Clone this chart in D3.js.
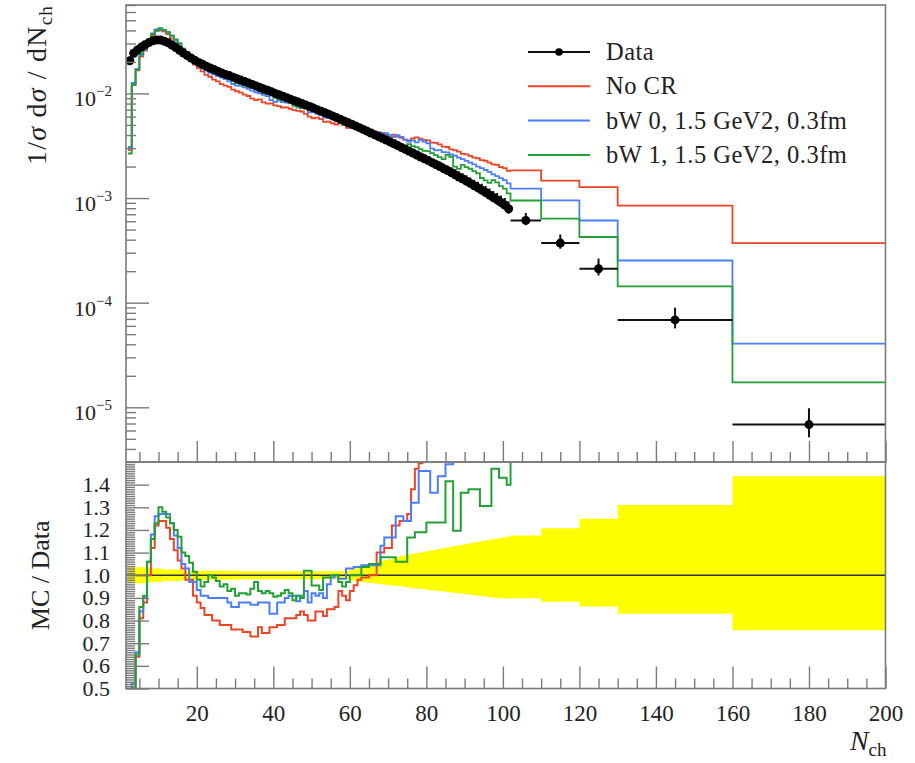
<!DOCTYPE html>
<html lang="en">
<head>
<meta charset="UTF-8">
<title>Nch distribution</title>
<script src="https://d3js.org/d3.v7.min.js"></script>
<style>
  body { margin: 0; padding: 0; background: #fff; }
  svg { display: block; font-family: "Liberation Serif", "DejaVu Serif", serif; }
</style>
</head>
<body>
<svg id="chart" width="915" height="763"></svg>
<script>
// bin edges in Nch: unit bins 2..102, then the wide tail bins
const binEdges = [2,3,4,5,6,7,8,9,10,11,12,13,14,15,16,17,18,19,20,21,22,23,24,25,26,27,28,29,30,31,
  32,33,34,35,36,37,38,39,40,41,42,43,44,45,46,47,48,49,50,51,52,53,54,55,56,57,58,59,60,61,
  62,63,64,65,66,67,68,69,70,71,72,73,74,75,76,77,78,79,80,81,82,83,84,85,86,87,88,89,90,91,
  92,93,94,95,96,97,98,99,100,101,102,110,120,130,160,200];

// 1/sigma dsigma/dNch for the data
const dataVals = [
  0.0205, 0.0242, 0.0260, 0.0277, 0.0292, 0.0306, 0.0318, 0.0324, 0.0324, 0.0316,
  0.0305, 0.0290, 0.0274, 0.0258, 0.0243, 0.0230, 0.0218, 0.0207, 0.0198, 0.0190,
  0.0182, 0.0175, 0.0169, 0.0163, 0.0157, 0.0152, 0.0148, 0.0143, 0.0138, 0.0134,
  0.0130, 0.0126, 0.0122, 0.0118, 0.0114, 0.0110, 0.0107, 0.0104, 0.0100, 0.00971,
  0.00940, 0.00910, 0.00881, 0.00853, 0.00826, 0.00800, 0.00774, 0.00750, 0.00724, 0.00700,
  0.00676, 0.00653, 0.00631, 0.00610, 0.00587, 0.00566, 0.00546, 0.00526, 0.00507, 0.00489,
  0.00471, 0.00453, 0.00436, 0.00419, 0.00403, 0.00387, 0.00372, 0.00358, 0.00344, 0.00330,
  0.00317, 0.00304, 0.00292, 0.00280, 0.00269, 0.00258, 0.00247, 0.00237, 0.00228, 0.00218,
  0.00209, 0.00200, 0.00191, 0.00183, 0.00175, 0.00167, 0.00159, 0.00152, 0.00145, 0.00138,
  0.00131, 0.00125, 0.00119, 0.00113, 0.00107, 0.00101, 0.000960, 0.000908, 0.000859, 0.000790,
  0.000611, 0.000371, 0.000211, 0.0000684, 0.00000683
];

// relative data uncertainty (upper / lower edge of the yellow band)
const errUp = [
  1.035, 1.035, 1.035, 1.035, 1.035, 1.03, 1.03, 1.03, 1.03, 1.025,
  1.025, 1.025, 1.025, 1.025, 1.02, 1.02, 1.02, 1.02, 1.02, 1.02,
  1.02, 1.02, 1.02, 1.02, 1.02, 1.02, 1.02, 1.02, 1.02, 1.018,
  1.018, 1.018, 1.018, 1.018, 1.018, 1.018, 1.018, 1.018, 1.018, 1.018,
  1.018, 1.018, 1.018, 1.018, 1.018, 1.018, 1.018, 1.018, 1.018, 1.018,
  1.018, 1.018, 1.018, 1.018, 1.018, 1.018, 1.018, 1.02, 1.025, 1.03,
  1.035, 1.04, 1.045, 1.05, 1.055, 1.06, 1.063, 1.067, 1.07, 1.075,
  1.08, 1.085, 1.088, 1.092, 1.095, 1.098, 1.10, 1.103, 1.107, 1.11,
  1.113, 1.116, 1.12, 1.123, 1.126, 1.129, 1.132, 1.135, 1.138, 1.141,
  1.144, 1.147, 1.15, 1.153, 1.156, 1.159, 1.162, 1.165, 1.168, 1.171,
  1.175, 1.208, 1.25, 1.31, 1.437
];
const errDown = [
  0.965, 0.965, 0.965, 0.965, 0.965, 0.97, 0.97, 0.97, 0.97, 0.975,
  0.975, 0.975, 0.975, 0.975, 0.98, 0.98, 0.98, 0.98, 0.98, 0.98,
  0.98, 0.98, 0.98, 0.98, 0.98, 0.98, 0.98, 0.98, 0.98, 0.982,
  0.982, 0.982, 0.982, 0.982, 0.982, 0.982, 0.982, 0.982, 0.982, 0.982,
  0.982, 0.982, 0.982, 0.982, 0.982, 0.982, 0.982, 0.982, 0.982, 0.982,
  0.982, 0.982, 0.982, 0.982, 0.982, 0.982, 0.982, 0.98, 0.978, 0.975,
  0.972, 0.97, 0.968, 0.966, 0.964, 0.962, 0.96, 0.958, 0.956, 0.954,
  0.952, 0.95, 0.948, 0.946, 0.944, 0.942, 0.94, 0.938, 0.936, 0.934,
  0.932, 0.93, 0.928, 0.926, 0.924, 0.922, 0.92, 0.918, 0.916, 0.914,
  0.912, 0.91, 0.908, 0.906, 0.904, 0.902, 0.90, 0.899, 0.898, 0.897,
  0.898, 0.883, 0.862, 0.83, 0.757
];

// MC / Data per bin
const ratioNoCR = [
  0.14, 0.50, 0.64, 0.81, 0.88, 1.00, 1.12, 1.22, 1.24, 1.24,
  1.21, 1.16, 1.11, 1.065, 1.03, 0.98, 0.98, 0.91, 0.88, 0.855,
  0.825, 0.825, 0.80, 0.80, 0.78, 0.78, 0.78, 0.76, 0.76, 0.76,
  0.75, 0.75, 0.73, 0.73, 0.77, 0.745, 0.745, 0.77, 0.77, 0.78,
  0.78, 0.81, 0.81, 0.81, 0.825, 0.84, 0.825, 0.80, 0.80, 0.84,
  0.84, 0.82, 0.85, 0.85, 0.86, 0.93, 0.91, 0.89, 0.93, 0.956,
  0.98, 0.99, 0.99, 1.00, 1.00, 1.10, 1.10, 1.12, 1.12, 1.22,
  1.22, 1.24, 1.24, 1.27, 1.38, 1.47, 1.495, 1.52, 1.56, 1.55,
  1.61, 1.63, 1.62, 1.68, 1.67, 1.72, 1.75, 1.74, 1.80, 1.83,
  1.86, 1.92, 1.94, 2.01, 2.04, 2.08, 2.16, 2.18, 2.25, 2.30,
  3.01, 3.96, 6.02, 12.4, 54.3
];
const ratioBW0 = [
  0.15, 0.52, 0.66, 0.84, 0.90, 1.06, 1.18, 1.26, 1.27, 1.27,
  1.27, 1.23, 1.175, 1.12, 1.05, 1.03, 0.97, 0.97, 0.935, 0.91,
  0.91, 0.90, 0.90, 0.90, 0.90, 0.90, 0.88, 0.86, 0.86, 0.88,
  0.88, 0.88, 0.87, 0.87, 0.88, 0.88, 0.88, 0.83, 0.83, 0.88,
  0.88, 0.90, 0.91, 0.91, 0.885, 0.91, 0.93, 0.88, 0.92, 0.91,
  0.92, 0.90, 0.96, 0.99, 1.00, 0.985, 0.985, 1.03, 1.03, 1.036,
  1.036, 1.044, 1.044, 1.044, 1.044, 1.044, 1.13, 1.167, 1.167, 1.167,
  1.26, 1.26, 1.24, 1.24, 1.32, 1.32, 1.46, 1.46, 1.46, 1.364,
  1.364, 1.437, 1.437, 1.49, 1.49, 1.52, 1.53, 1.55, 1.56, 1.58,
  1.60, 1.60, 1.62, 1.64, 1.66, 1.67, 1.69, 1.71, 1.73, 1.75,
  2.01, 2.56, 2.89, 3.70, 5.94
];
const ratioBW1 = [
  0.13, 0.50, 0.65, 0.86, 0.91, 1.06, 1.16, 1.23, 1.30, 1.28,
  1.255, 1.23, 1.20, 1.17, 1.10, 1.085, 1.055, 1.015, 0.98, 0.95,
  0.97, 1.00, 0.99, 0.975, 0.95, 0.96, 0.93, 0.94, 0.91, 0.92,
  0.92, 0.915, 0.94, 0.97, 0.93, 0.92, 0.93, 0.92, 0.905, 0.91,
  0.92, 0.935, 0.92, 0.89, 0.91, 0.90, 1.02, 1.02, 0.955, 0.955,
  0.935, 0.99, 0.99, 1.00, 1.00, 0.97, 0.95, 0.97, 1.00, 1.00,
  1.00, 1.036, 1.036, 1.05, 1.05, 1.05, 1.08, 1.08, 1.08, 1.08,
  1.06, 1.06, 1.06, 1.167, 1.167, 1.19, 1.19, 1.19, 1.233, 1.233,
  1.233, 1.233, 1.233, 1.415, 1.415, 1.197, 1.197, 1.364, 1.364, 1.38,
  1.38, 1.38, 1.306, 1.306, 1.306, 1.47, 1.47, 1.43, 1.43, 1.40,
  1.55, 1.71, 2.01, 2.09, 2.53
];

const xTickLabels = [20, 40, 60, 80, 100, 120, 140, 160, 180, 200];
const ratioTickLabels = [0.5, 0.6, 0.7, 0.8, 0.9, 1.0, 1.1, 1.2, 1.3, 1.4];
const decadeTicks = [1e-5, 1e-4, 1e-3, 1e-2];
const decadeExps = ["\u22125", "\u22124", "\u22123", "\u22122"];

const seriesNames = ["No CR", "bW 0, 1.5 GeV2, 0.3fm", "bW 1, 1.5 GeV2, 0.3fm"];
const seriesColors = ["#ee4426", "#4a7dff", "#23a035"];
const seriesRatios = [ratioNoCR, ratioBW0, ratioBW1];

// layout
const plotL = 126, plotR = 885.5, plotT = 5, plotM = 462, plotB = 688.5;
const axisColor = "#7a7a7a";

const x = d3.scaleLinear().domain([1.5, 200]).range([plotL, plotR]);
const yMain = d3.scaleLog().domain([3e-6, 0.07]).range([plotM, plotT]);
const yRatio = d3.scaleLinear().domain([0.5, 1.5]).range([plotB, plotM]);

const svg = d3.select("#chart");
const defs = svg.append("defs");
defs.append("clipPath").attr("id", "clipTop").append("rect")
  .attr("x", plotL).attr("y", plotT).attr("width", plotR - plotL).attr("height", plotM - plotT);
defs.append("clipPath").attr("id", "clipBot").append("rect")
  .attr("x", plotL).attr("y", plotM).attr("width", plotR - plotL).attr("height", plotB - plotM);

function steps(vals) {
  return vals.flatMap((v, i) => [[binEdges[i], v], [binEdges[i + 1], v]]);
}
const lineTop = d3.line().x(d => x(d[0])).y(d => yMain(d[1]));
const lineBot = d3.line().x(d => x(d[0])).y(d => yRatio(d[1]));

// ---------- ratio panel ----------
const bandPts = errUp.flatMap((u, i) => [[binEdges[i], errDown[i], u], [binEdges[i + 1], errDown[i], u]]);
const band = d3.area().x(d => x(d[0])).y0(d => yRatio(d[1])).y1(d => yRatio(d[2]));

const botG = svg.append("g").attr("clip-path", "url(#clipBot)");
botG.append("path").attr("d", band(bandPts)).attr("fill", "#ffff00");
botG.append("line")
  .attr("x1", plotL).attr("x2", plotR).attr("y1", yRatio(1)).attr("y2", yRatio(1))
  .attr("stroke", "#333").attr("stroke-width", 1.3);

seriesRatios.forEach((r, k) => {
  botG.append("path")
    .attr("d", lineBot(steps(r)))
    .attr("fill", "none")
    .attr("stroke", seriesColors[k])
    .attr("stroke-width", 2);
});

// ---------- main panel ----------
const topG = svg.append("g").attr("clip-path", "url(#clipTop)");
seriesRatios.forEach((r, k) => {
  const mc = r.map((v, i) => v * dataVals[i]);
  topG.append("path")
    .attr("d", lineTop(steps(mc)))
    .attr("fill", "none")
    .attr("stroke", seriesColors[k])
    .attr("stroke-width", 1.8);
});

const bins = dataVals.map((v, i) => ({
  lo: binEdges[i], hi: binEdges[i + 1], v: v,
  up: v * errUp[i], dn: v * errDown[i]
}));

topG.selectAll(".xerr").data(bins).enter().append("line")
  .attr("x1", d => x(d.lo)).attr("x2", d => x(d.hi))
  .attr("y1", d => yMain(d.v)).attr("y2", d => yMain(d.v))
  .attr("stroke", "#111").attr("stroke-width", 2);
topG.selectAll(".yerr").data(bins).enter().append("line")
  .attr("x1", d => x((d.lo + d.hi) / 2)).attr("x2", d => x((d.lo + d.hi) / 2))
  .attr("y1", d => yMain(d.up)).attr("y2", d => yMain(d.dn))
  .attr("stroke", "#111").attr("stroke-width", 2);
topG.selectAll(".pt").data(bins).enter().append("circle")
  .attr("cx", d => x((d.lo + d.hi) / 2))
  .attr("cy", d => yMain(d.v))
  .attr("r", 4.5)
  .attr("fill", "#000");

// ---------- axes ----------
const xMinor = d3.range(5, 200, 5).filter(v => v % 20 !== 0);
function styleAxis(g) {
  g.attr("color", axisColor);
  g.select(".domain").remove();
  g.selectAll(".tick line").attr("stroke-width", 1.4);
}

// x ticks, upper panel (no labels)
svg.append("g").attr("transform", `translate(0,${plotM})`)
  .call(d3.axisBottom(x).tickValues(xMinor).tickSize(-10).tickFormat(""))
  .call(styleAxis);
svg.append("g").attr("transform", `translate(0,${plotM})`)
  .call(d3.axisBottom(x).tickValues(xTickLabels).tickSize(-21).tickFormat(""))
  .call(styleAxis);

// x ticks, ratio panel
svg.append("g").attr("transform", `translate(0,${plotB})`)
  .call(d3.axisBottom(x).tickValues(xMinor).tickSize(-10).tickFormat(""))
  .call(styleAxis);
svg.append("g").attr("transform", `translate(0,${plotB})`)
  .call(d3.axisBottom(x).tickValues(xTickLabels).tickSize(-22).tickPadding(16))
  .call(styleAxis)
  .call(g => g.selectAll(".tick text").attr("fill", "#222").attr("font-size", 23)
    .attr("font-family", "Liberation Serif"));

// y ticks, main panel (log)
const logMinor = [];
[-6, -5, -4, -3, -2].forEach(e => {
  for (let m = 2; m <= 9; m++) {
    const v = m * Math.pow(10, e);
    if (v >= 3e-6 && v <= 0.07) logMinor.push(v);
  }
});
svg.append("g").attr("transform", `translate(${plotL},0)`)
  .call(d3.axisLeft(yMain).tickValues(logMinor).tickSize(-10).tickFormat(""))
  .call(styleAxis);
svg.append("g").attr("transform", `translate(${plotL},0)`)
  .call(d3.axisLeft(yMain).tickValues(decadeTicks).tickSize(-23).tickFormat(""))
  .call(styleAxis);

const decLab = svg.append("g").selectAll("text").data(decadeTicks).enter().append("text")
  .attr("x", 112)
  .attr("y", d => yMain(d) + 13)
  .attr("text-anchor", "end")
  .attr("font-size", 22)
  .attr("fill", "#222");
decLab.append("tspan").text("10");
decLab.append("tspan").attr("dy", -10).attr("font-size", 15).text((d, i) => decadeExps[i]);

// y ticks, ratio panel
const ratioMinor = d3.range(51, 150).filter(v => v % 10 !== 0).map(v => v / 100);
svg.append("g").attr("transform", `translate(${plotL},0)`)
  .call(d3.axisLeft(yRatio).tickValues(ratioMinor).tickSize(-9).tickFormat(""))
  .call(styleAxis);
svg.append("g").attr("transform", `translate(${plotL},0)`)
  .call(d3.axisLeft(yRatio).tickValues(ratioTickLabels).tickSize(-23).tickPadding(16)
    .tickFormat(d3.format(".1f")))
  .call(styleAxis)
  .call(g => g.selectAll(".tick text").attr("fill", "#222").attr("font-size", 22)
    .attr("font-family", "Liberation Serif"));

// frames
[[plotT, plotM], [plotM, plotB]].forEach(([a, b]) => {
  svg.append("rect")
    .attr("x", plotL).attr("y", a).attr("width", plotR - plotL).attr("height", b - a)
    .attr("fill", "none").attr("stroke", axisColor).attr("stroke-width", 1.6);
});

// axis titles
const yTitle = svg.append("text")
  .attr("transform", `translate(46,${plotT}) rotate(-90)`)
  .attr("text-anchor", "end")
  .attr("font-size", 28)
  .attr("letter-spacing", 1.2)
  .attr("fill", "#222");
yTitle.append("tspan").text("1/");
yTitle.append("tspan").attr("font-style", "italic").text("\u03c3");
yTitle.append("tspan").text(" d");
yTitle.append("tspan").attr("font-style", "italic").text("\u03c3");
yTitle.append("tspan").text(" / dN");
yTitle.append("tspan").attr("font-size", 19).attr("dy", 6).text("ch");

svg.append("text")
  .attr("transform", `translate(49,${yRatio(1)}) rotate(-90)`)
  .attr("text-anchor", "middle")
  .attr("font-size", 26)
  .attr("fill", "#222")
  .text("MC / Data");

const xTitle = svg.append("text")
  .attr("x", plotR + 1).attr("y", 750)
  .attr("text-anchor", "end")
  .attr("font-size", 28)
  .attr("fill", "#222");
xTitle.append("tspan").attr("font-style", "italic").text("N");
xTitle.append("tspan").attr("font-size", 19).attr("dy", 6).text("ch");

// legend
const legend = svg.append("g").attr("transform", "translate(528,52)");
const legNames = ["Data"].concat(seriesNames);
const legColors = ["#111"].concat(seriesColors);
const rows = legend.selectAll("g").data(legNames).enter().append("g")
  .attr("transform", (d, i) => `translate(0,${i * 34.3})`);
rows.append("line")
  .attr("x1", 0).attr("x2", 62).attr("y1", 0).attr("y2", 0)
  .attr("stroke", (d, i) => legColors[i])
  .attr("stroke-width", 2);
rows.filter((d, i) => i === 0).append("circle")
  .attr("cx", 31).attr("cy", 0).attr("r", 3.8).attr("fill", "#000");
rows.append("text")
  .attr("x", 78).attr("y", 8)
  .attr("font-size", 24.5)
  .attr("letter-spacing", 0.5)
  .attr("fill", "#222")
  .text(d => d);
</script>
</body>
</html>
